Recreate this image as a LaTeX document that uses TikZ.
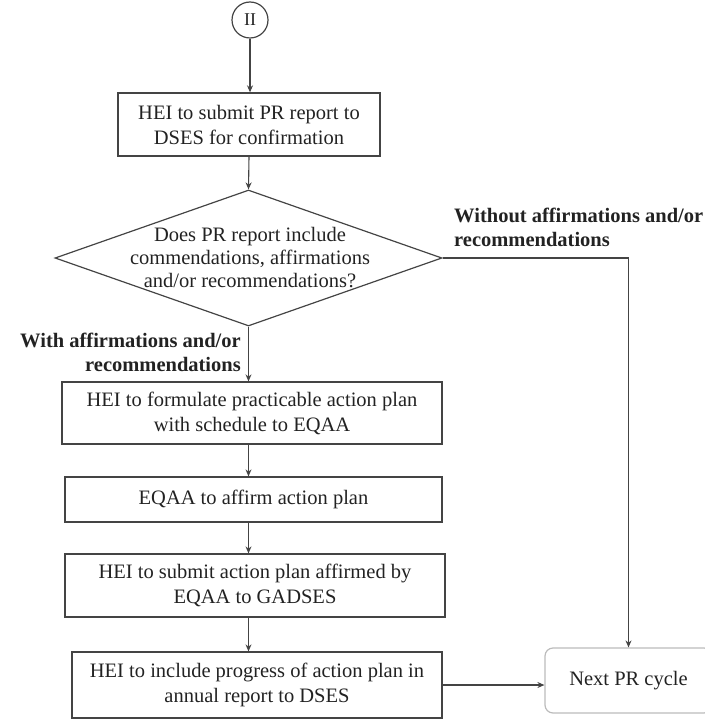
\documentclass[tikz,border=0pt]{standalone}
\usepackage{fontspec}
\setmainfont{Liberation Serif}
\usetikzlibrary{shapes.geometric,arrows.meta}
\definecolor{ink}{HTML}{222222}
\definecolor{edge}{HTML}{444444}
\definecolor{pale}{HTML}{BBBBBB}
\tikzset{
  stepbox/.style={draw=edge, line width=1.3pt, align=center, inner sep=0pt, text=ink,
    font=\fontsize{20.5}{25}\selectfont},
  conn/.style={draw=edge, line width=1.1pt, -{Stealth[length=7pt,width=6pt]}},
  lbl/.style={font=\fontsize{20.5}{24}\selectfont\bfseries, text=ink, inner sep=0pt}
}
\begin{document}
\begin{tikzpicture}[x=1pt,y=-1pt]
\useasboundingbox (0,0) rectangle (704,722);
% start connector
\node[circle, draw=edge, line width=1.2pt, minimum size=36pt, inner sep=0pt, text=ink,
  font=\fontsize{18}{20}\selectfont] (start) at (250,20) {II};
% boxes
\node[stepbox, minimum width=262pt, minimum height=63pt] (b1) at (249,124.5)
  {HEI to submit PR report to\\DSES for confirmation};
\node[diamond, draw=edge, line width=1.2pt, minimum width=387pt, minimum height=136pt,
  inner sep=0pt, aspect=2.85, align=center, text=ink,
  font=\fontsize{20.5}{23}\selectfont] (dec) at (248.5,258) {};
\node[align=center, text=ink, font=\fontsize{20.5}{23}\selectfont, inner sep=0pt] (dectext) at (250,258)
  {Does PR report include\\commendations, affirmations\\and/or recommendations?};
\node[stepbox, minimum width=380pt, minimum height=62pt] (b2) at (252,413)
  {HEI to formulate practicable action plan\\with schedule to EQAA};
\node[stepbox, minimum width=377pt, minimum height=45pt] (b3) at (253.5,499.5)
  {EQAA to affirm action plan};
\node[stepbox, minimum width=380pt, minimum height=63pt] (b4) at (255,585.5)
  {HEI to submit action plan affirmed by\\EQAA to GADSES};
\node[stepbox, minimum width=370pt, minimum height=66pt] (b5) at (257,685)
  {HEI to include progress of action plan in\\annual report to DSES};
\node[draw=pale, line width=1.2pt, rounded corners=8pt, minimum width=167pt, minimum height=65pt,
  inner sep=0pt, text=ink, font=\fontsize{20.5}{25}\selectfont] (next) at (628.5,680.5) {Next PR cycle};
% labels
\node[lbl, align=left, anchor=west] (lwithout) at (454,227)
  {Without affirmations and/or\\recommendations};
\node[lbl, align=right, anchor=east] (lwith) at (241,352)
  {With affirmations and/or\\recommendations};
% connectors
\draw[conn] (start.south) -- (b1.north -| start.south);
\draw[conn] (b1.south) -- (dec.north);
\draw[conn] (dec.south) -- (dec.south |- b2.north);
\draw[conn] (dec.south |- b2.south) -- (dec.south |- b3.north);
\draw[conn] (dec.south |- b3.south) -- (dec.south |- b4.north);
\draw[conn] (dec.south |- b4.south) -- (dec.south |- b5.north);
\draw[conn] (dec.east) -| (next.north);
\draw[conn] (b5.east) -- (b5.east -| next.west);
\end{tikzpicture}
\end{document}
